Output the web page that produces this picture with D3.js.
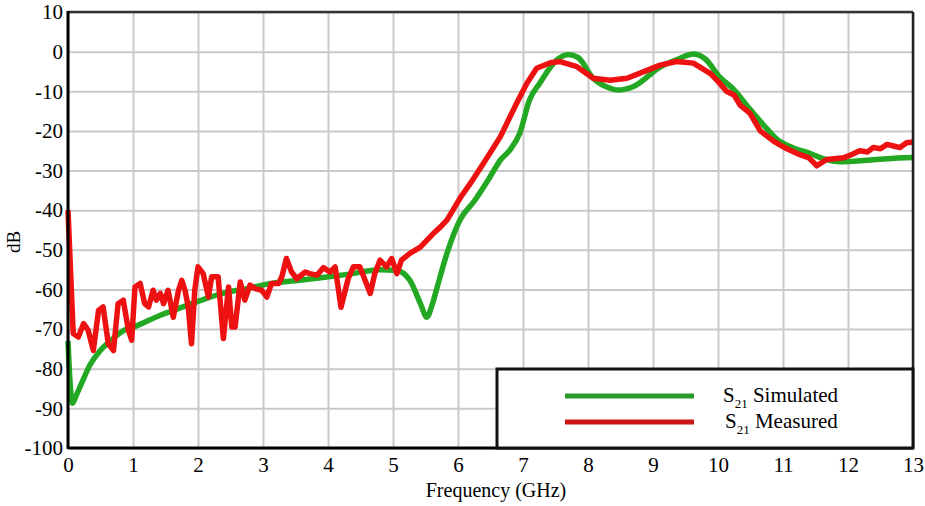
<!DOCTYPE html>
<html>
<head>
<meta charset="utf-8">
<script src="https://cdn.jsdelivr.net/npm/d3@7"></script>
<style>
  body { margin: 0; background: #fff; }
  svg { display: block; }
</style>
</head>
<body>
<div id="chart"></div>
<script>
// simulated S21 (green)
var simFreq = [0, 0.03, 0.07, 0.12, 0.2, 0.34, 0.49, 0.65, 0.9, 1.0, 1.42, 1.62, 2.0, 2.38,
  2.75, 3.15, 3.5, 3.92, 4.3, 4.8, 5.06, 5.26, 5.42, 5.52, 5.6, 5.68, 5.83, 6.03, 6.26, 6.49,
  6.65, 6.8, 6.95, 7.1, 7.26, 7.52, 7.7, 7.85, 8.08, 8.3, 8.46, 8.7, 9.11, 9.4, 9.62, 9.8,
  10.03, 10.24, 10.49, 10.7, 10.9, 11.16, 11.42, 11.62, 11.88, 12.29, 12.6, 13.0];
var simDb = [-73, -83, -88.7, -87, -84, -79, -75.5, -73, -70, -69.5, -66.5, -65.3, -63, -61,
  -59.8, -58.4, -57.8, -57, -56.2, -55, -55.2, -57.7, -63.5, -67, -64, -59.4, -50.9, -42.5, -37.5, -31.7,
  -27.4, -24.8, -20.6, -12.2, -7.9, -2.1, -0.7, -1.5, -6.7, -9.0, -9.7, -8.8, -3.9, -1.8, -0.6, -1.8,
  -6.5, -9.5, -14.5, -18.5, -22.0, -24.3, -25.7, -27.0, -27.8, -27.4, -27.0, -26.7];

// measured S21 (red)
var measFreq = [0, 0.08, 0.16, 0.24, 0.31, 0.39, 0.47, 0.54, 0.62, 0.70, 0.77, 0.85, 0.93, 0.98,
  1.03, 1.11, 1.18, 1.24, 1.31, 1.36, 1.42, 1.47, 1.54, 1.62, 1.70, 1.75, 1.80, 1.85, 1.90, 1.95,
  2.0, 2.08, 2.16, 2.21, 2.31, 2.39, 2.47, 2.52, 2.57, 2.65, 2.72, 2.80, 2.88, 2.98, 3.06, 3.13,
  3.24, 3.29, 3.36, 3.44, 3.52, 3.65, 3.72, 3.83, 3.93, 4.03, 4.11, 4.2, 4.31, 4.39, 4.49, 4.65,
  4.72, 4.80, 4.90, 4.98, 5.06, 5.13, 5.26, 5.42, 5.52, 5.62, 5.72, 5.83, 6.03, 6.2, 6.39, 6.65,
  6.90, 7.06, 7.21, 7.42, 7.57, 7.83, 8.08, 8.34, 8.60, 8.85, 9.11, 9.36, 9.62, 9.88, 10.0, 10.13,
  10.25, 10.34, 10.49, 10.58, 10.65, 10.85, 10.95, 11.06, 11.26, 11.4, 11.52, 11.67, 11.93, 12.05,
  12.18, 12.3, 12.39, 12.5, 12.6, 12.7, 12.8, 12.9, 13.0];
var measDb = [-40, -71.1, -72.0, -68.6, -70.3, -75.4, -65.3, -64.4, -73.7, -75.4, -63.6, -62.7, -70.3, -72.8,
  -59.4, -58.5, -63.6, -64.4, -60.2, -62.7, -61.0, -63.6, -60.2, -67.0, -60.2, -57.7, -60.2, -64.4, -73.7, -60.2,
  -54.3, -56.0, -61.9, -56.8, -56.8, -72.4, -59.4, -69.5, -69.5, -58.1, -62.7, -58.9, -59.8, -60.2, -61.9, -58.5,
  -58.5, -56.8, -52.2, -55.6, -57.3, -55.6, -56.0, -56.4, -54.5, -55.6, -54.3, -64.5, -57.3, -54.3, -54.3, -61.0,
  -56.0, -52.6, -54.3, -52.2, -56.0, -52.6, -50.9, -49.3, -47.6, -45.9, -44.4, -42.5, -37.0, -33.0, -28.2, -21.5,
  -13.1, -8.0, -4.2, -2.8, -2.5, -3.8, -6.7, -7.2, -6.7, -5.1, -3.4, -2.5, -2.9, -5.5, -7.5, -10.0,
  -11.0, -13.5, -15.5, -18.0, -20.0, -22.5, -23.5, -24.5, -26.0, -26.8, -28.8, -27.2, -26.8, -26.0,
  -25.0, -25.3, -24.2, -24.5, -23.4, -23.8, -24.2, -23.0, -22.8];

var xTicks = [0, 1, 2, 3, 4, 5, 6, 7, 8, 9, 10, 11, 12, 13];
var yTicks = [10, 0, -10, -20, -30, -40, -50, -60, -70, -80, -90, -100];
var legendLabels = ['Simulated', 'Measured'];
var seriesColors = ['#22a822', '#ee1111'];
var legendColors = ['#2a9a2a', '#cc1515'];

var serif = "'Liberation Serif', serif";

var margin = {top: 12, right: 12, bottom: 58, left: 68},
    width = 925 - margin.left - margin.right,
    height = 506 - margin.top - margin.bottom;

var xScale = d3.scaleLinear().domain([0, 13]).range([0, width]);
var yScale = d3.scaleLinear().domain([-100, 10]).range([height, 0]);

var svg = d3.select('#chart').append('svg')
    .attr('width', 925)
    .attr('height', 506)
  .append('g')
    .attr('transform', 'translate(' + margin.left + ',' + margin.top + ')');

// grid
svg.append('g')
    .attr('class', 'x-grid')
    .attr('transform', 'translate(0,' + height + ')')
    .call(d3.axisBottom(xScale).tickValues(xTicks).tickSize(-height).tickFormat(''))
    .call(g => g.select('.domain').remove())
    .selectAll('line').attr('stroke', '#c9c9c9').attr('stroke-width', 2);
svg.append('g')
    .attr('class', 'y-grid')
    .call(d3.axisLeft(yScale).tickValues(yTicks).tickSize(-width).tickFormat(''))
    .call(g => g.select('.domain').remove())
    .selectAll('line').attr('stroke', '#c9c9c9').attr('stroke-width', 2);

// curves
var simData = simFreq.map((f, i) => [f, simDb[i]]);
var measData = measFreq.map((f, i) => [f, measDb[i]]);

var smooth = d3.line()
    .x(d => xScale(d[0]))
    .y(d => yScale(d[1]))
    .curve(d3.curveMonotoneX);
var rough = d3.line()
    .x(d => xScale(d[0]))
    .y(d => yScale(d[1]));

svg.append('path')
    .datum(simData)
    .attr('fill', 'none')
    .attr('stroke', seriesColors[0])
    .attr('stroke-width', 5.5)
    .attr('stroke-linejoin', 'round')
    .attr('d', smooth);
svg.append('path')
    .datum(measData)
    .attr('fill', 'none')
    .attr('stroke', seriesColors[1])
    .attr('stroke-width', 5.5)
    .attr('stroke-linejoin', 'round')
    .attr('d', rough);

// frame
svg.append('line').attr('x1', 0).attr('x2', width).attr('y1', 0).attr('y2', 0)
    .attr('stroke', '#333').attr('stroke-width', 2.5);
svg.append('line').attr('x1', width).attr('x2', width).attr('y1', 0).attr('y2', height)
    .attr('stroke', '#222').attr('stroke-width', 2.5);
svg.append('line').attr('x1', 0).attr('x2', 0).attr('y1', -1).attr('y2', height + 1)
    .attr('stroke', '#000').attr('stroke-width', 3);
svg.append('line').attr('x1', 0).attr('x2', width).attr('y1', height).attr('y2', height)
    .attr('stroke', '#000').attr('stroke-width', 3);

// tick labels (plain hyphen minus as in the original)
svg.append('g')
    .attr('transform', 'translate(0,' + height + ')')
    .call(d3.axisBottom(xScale).tickValues(xTicks).tickSize(0).tickPadding(9)
          .tickFormat(d => String(d)))
    .call(g => g.select('.domain').remove())
    .attr('font-family', null)
    .selectAll('text')
      .style('font-family', serif)
      .style('font-size', '21px')
      .attr('fill', '#000');
svg.append('g')
    .call(d3.axisLeft(yScale).tickValues(yTicks).tickSize(0).tickPadding(5)
          .tickFormat(d => String(d)))
    .call(g => g.select('.domain').remove())
    .attr('font-family', null)
    .selectAll('text')
      .style('font-family', serif)
      .style('font-size', '21px')
      .attr('fill', '#000');

svg.append('text')
    .attr('x', 496 - margin.left)
    .attr('y', height + 49)
    .attr('text-anchor', 'middle')
    .style('font-family', serif)
    .style('font-size', '20px')
    .attr('fill', '#000')
    .text('Frequency (GHz)');
svg.append('text')
    .attr('transform', 'rotate(-90)')
    .attr('x', -(242 - margin.top))
    .attr('y', -margin.left + 20)
    .attr('text-anchor', 'middle')
    .style('font-family', serif)
    .style('font-size', '19px')
    .attr('fill', '#000')
    .text('dB');

// legend
var legend = svg.append('g')
    .attr('transform', 'translate(' + (497 - margin.left) + ',' + (369 - margin.top) + ')');
legend.append('rect')
    .attr('width', width - (497 - margin.left))
    .attr('height', height - (369 - margin.top))
    .attr('fill', '#fff')
    .attr('stroke', '#111')
    .attr('stroke-width', 3);
legendLabels.forEach(function(lbl, i) {
  let y = 27 + i * 26;
  legend.append('line')
      .attr('x1', 68).attr('x2', 197)
      .attr('y1', y).attr('y2', y)
      .attr('stroke', legendColors[i])
      .attr('stroke-width', 5);
  let t = legend.append('text')
      .attr('x', 226 + i * 2)
      .attr('y', y + 6)
      .style('font-family', serif)
      .style('font-size', '21px')
      .attr('fill', '#000');
  t.append('tspan').text('S');
  t.append('tspan').attr('dy', 6).style('font-size', '13px').text('21');
  t.append('tspan').attr('dy', -6).text(' ' + lbl);
});
</script>
</body>
</html>
